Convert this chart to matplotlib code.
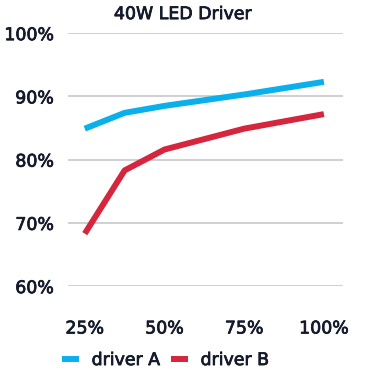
#!/usr/bin/env python3

import matplotlib
matplotlib.use('Agg')
import matplotlib.pyplot as plt
import matplotlib.patheffects as pe

load = [25, 37.5, 50, 75, 100]
driver_a = [84.9, 87.4, 88.5, 90.3, 92.3]
driver_b = [68.3, 78.3, 81.6, 84.9, 87.2]
xticks = [25, 50, 75, 100]
yticks = [60, 70, 80, 90, 100]

text_col = '#141a2b'
blue = '#0ab0ec'
red = '#d5263e'

plt.rcParams['font.family'] = ['DejaVu Sans']
thick = [pe.withStroke(linewidth=0.55, foreground=text_col)]

fig = plt.figure(figsize=(3.77, 3.81), dpi=100)
ax = fig.add_axes([0.180, 0.249, 0.730, 0.664])

ax.plot(load, driver_a, color=blue, lw=4.3, label='driver A', solid_capstyle='butt')
ax.plot(load, driver_b, color=red, lw=4.3, label='driver B', solid_capstyle='butt')

ax.set_xlim(19.7, 106)
ax.set_ylim(60, 100)
ax.set_yticks(yticks)
ax.set_yticklabels([f'{v}%' for v in yticks])
ax.set_xticks(xticks)
ax.set_xticklabels([f'{v}%' for v in xticks])
ax.yaxis.grid(True, color='#c8c8c8', lw=1.2)
ax.set_axisbelow(True)
for s in ax.spines.values():
  s.set_visible(False)
ax.tick_params(length=0, labelsize=12.5, labelcolor=text_col)
ax.tick_params(axis='y', pad=10)
ax.tick_params(axis='x', pad=24)
for lab in ax.get_xticklabels() + ax.get_yticklabels():
  lab.set_path_effects(thick)

fig.text(0.485, 0.963, '40W LED Driver', ha='center', va='center',
         fontsize=12.5, color=text_col, path_effects=thick)

leg = fig.legend(loc='center', bbox_to_anchor=(0.44, 0.055), ncol=2, frameon=False,
                 handlelength=1.0, handletextpad=0.7, columnspacing=0.6,
                 prop={'size': 12.5})
for t in leg.get_texts():
  t.set_color(text_col)
  t.set_path_effects(thick)

fig.savefig('out.png', dpi=100)
